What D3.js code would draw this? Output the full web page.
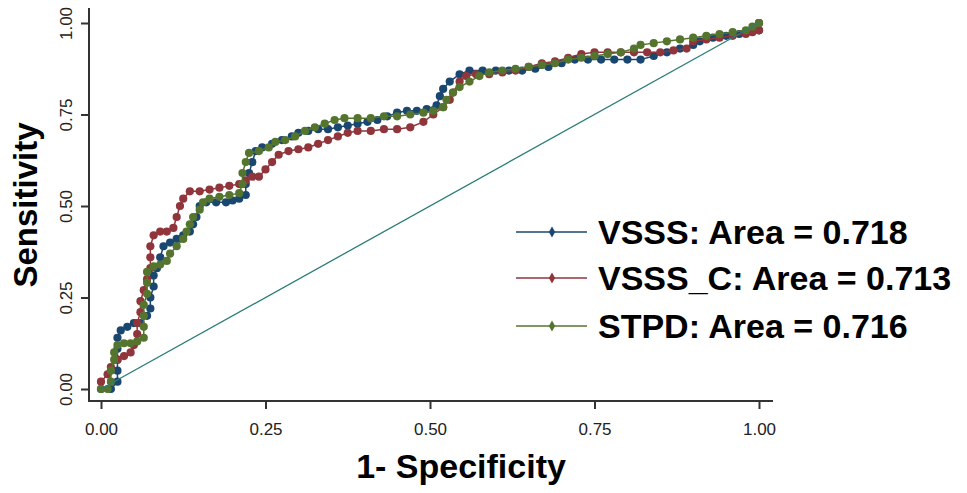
<!DOCTYPE html>
<html>
<head>
<meta charset="utf-8">
<script src="https://cdn.jsdelivr.net/npm/d3@7"></script>
<style>
  html, body { margin: 0; padding: 0; background: #fff; }
  svg { display: block; }
</style>
</head>
<body>
<svg id="chart" width="967" height="493"></svg>
<script>
// ---------------- data ----------------
const seriesNames = ["VSSS", "VSSS_C", "STPD"];
const areas = ["0.718", "0.713", "0.716"];
const xTicks = [0, 0.25, 0.5, 0.75, 1];
const yTicks = [0, 0.25, 0.5, 0.75, 1];
const xTitle = "1- Specificity";
const yTitle = "Sensitivity";

// [1-specificity, sensitivity]
const vsss = [[0,0],[0.015,0],[0.025,0.02],[0.025,0.05],[0.025,0.08],[0.025,0.11],[0.025,0.14],[0.03,0.16],[0.04,0.17],[0.05,0.18],[0.06,0.18],[0.07,0.2],[0.075,0.22],[0.075,0.25],[0.08,0.28],[0.08,0.31],[0.085,0.33],[0.09,0.36],[0.095,0.39],[0.105,0.4],[0.115,0.41],[0.125,0.42],[0.135,0.43],[0.14,0.45],[0.145,0.47],[0.15,0.5],[0.16,0.51],[0.175,0.51],[0.19,0.51],[0.2,0.515],[0.21,0.52],[0.22,0.53],[0.22,0.56],[0.225,0.59],[0.23,0.62],[0.235,0.65],[0.245,0.66],[0.26,0.67],[0.275,0.68],[0.29,0.69],[0.3,0.7],[0.315,0.705],[0.33,0.71],[0.345,0.71],[0.36,0.715],[0.375,0.72],[0.39,0.725],[0.405,0.73],[0.42,0.735],[0.435,0.745],[0.45,0.755],[0.465,0.76],[0.48,0.76],[0.495,0.765],[0.51,0.775],[0.515,0.8],[0.52,0.82],[0.53,0.84],[0.545,0.86],[0.56,0.87],[0.58,0.87],[0.6,0.87],[0.62,0.87],[0.64,0.87],[0.66,0.875],[0.68,0.88],[0.7,0.89],[0.72,0.9],[0.74,0.9],[0.76,0.9],[0.78,0.9],[0.8,0.9],[0.82,0.9],[0.84,0.91],[0.86,0.92],[0.88,0.93],[0.9,0.94],[0.91,0.95],[0.93,0.96],[0.95,0.965],[0.97,0.97],[0.98,0.975],[1,0.98],[1,1]];

const vsssC = [[0,0.02],[0.01,0.04],[0.015,0.06],[0.025,0.08],[0.035,0.09],[0.045,0.1],[0.05,0.12],[0.055,0.15],[0.055,0.18],[0.06,0.21],[0.06,0.24],[0.065,0.27],[0.07,0.3],[0.075,0.33],[0.075,0.36],[0.075,0.39],[0.08,0.42],[0.09,0.43],[0.1,0.43],[0.11,0.44],[0.115,0.47],[0.12,0.5],[0.125,0.52],[0.135,0.54],[0.15,0.54],[0.165,0.545],[0.18,0.55],[0.195,0.555],[0.21,0.56],[0.22,0.57],[0.23,0.58],[0.24,0.58],[0.25,0.6],[0.26,0.62],[0.27,0.64],[0.285,0.65],[0.3,0.655],[0.315,0.66],[0.33,0.67],[0.345,0.68],[0.36,0.69],[0.375,0.7],[0.39,0.705],[0.41,0.705],[0.43,0.71],[0.45,0.71],[0.47,0.715],[0.49,0.73],[0.505,0.75],[0.52,0.77],[0.53,0.79],[0.535,0.81],[0.545,0.84],[0.555,0.855],[0.57,0.86],[0.59,0.86],[0.61,0.865],[0.63,0.87],[0.65,0.88],[0.67,0.89],[0.69,0.895],[0.71,0.905],[0.73,0.915],[0.75,0.92],[0.77,0.92],[0.79,0.92],[0.81,0.92],[0.83,0.92],[0.85,0.92],[0.87,0.925],[0.89,0.93],[0.9,0.95],[0.92,0.955],[0.94,0.96],[0.96,0.965],[0.98,0.97],[0.99,0.975],[1,0.98],[1,1]];

const stpd = [[0,0],[0.01,0],[0.015,0.02],[0.015,0.05],[0.02,0.08],[0.02,0.1],[0.025,0.12],[0.035,0.125],[0.045,0.125],[0.055,0.13],[0.065,0.14],[0.065,0.17],[0.065,0.2],[0.065,0.23],[0.07,0.26],[0.07,0.29],[0.07,0.32],[0.08,0.335],[0.09,0.34],[0.1,0.35],[0.105,0.37],[0.115,0.39],[0.125,0.41],[0.13,0.43],[0.135,0.45],[0.14,0.47],[0.15,0.49],[0.155,0.51],[0.165,0.52],[0.18,0.525],[0.195,0.53],[0.21,0.535],[0.215,0.56],[0.215,0.59],[0.22,0.62],[0.225,0.645],[0.24,0.65],[0.255,0.66],[0.265,0.675],[0.28,0.68],[0.295,0.69],[0.31,0.705],[0.325,0.715],[0.34,0.725],[0.355,0.735],[0.37,0.74],[0.39,0.74],[0.41,0.74],[0.43,0.745],[0.45,0.745],[0.47,0.75],[0.49,0.755],[0.505,0.76],[0.52,0.77],[0.525,0.79],[0.535,0.81],[0.545,0.825],[0.56,0.84],[0.575,0.855],[0.59,0.865],[0.61,0.87],[0.63,0.875],[0.65,0.88],[0.67,0.885],[0.69,0.89],[0.71,0.9],[0.73,0.905],[0.75,0.91],[0.77,0.915],[0.79,0.92],[0.81,0.93],[0.82,0.94],[0.84,0.945],[0.86,0.95],[0.88,0.955],[0.9,0.96],[0.92,0.965],[0.94,0.97],[0.96,0.975],[0.98,0.98],[0.99,0.99],[1,1]];

const referenceLine = [[0,0],[1,1]];
const colors = ["#1a476f", "#90353b", "#55752f"];
const refColor = "#2b7d79";

// ---------------- drawing ----------------
const svg = d3.select("#chart");
const x = d3.scaleLinear().domain([0, 1]).range([101, 759]);
const y = d3.scaleLinear().domain([0, 1]).range([389, 23]);
const axisLeftX = 89, axisBottomY = 401;
const axisColor = "#333";

// axes lines
svg.append("line").attr("x1", axisLeftX).attr("x2", axisLeftX).attr("y1", 8).attr("y2", axisBottomY + 1)
  .attr("stroke", axisColor).attr("stroke-width", 2);
svg.append("line").attr("x1", axisLeftX - 1).attr("x2", 773).attr("y1", axisBottomY).attr("y2", axisBottomY)
  .attr("stroke", axisColor).attr("stroke-width", 2);

// y axis ticks
const yAxis = d3.axisLeft(y).tickValues(yTicks).tickFormat(d3.format(".2f")).tickSize(8).tickPadding(0);
const gy = svg.append("g").attr("transform", `translate(${axisLeftX},0)`).call(yAxis);
gy.select(".domain").remove();
gy.selectAll(".tick line").attr("stroke", axisColor).attr("stroke-width", 2);
gy.selectAll(".tick text").attr("transform", "translate(-17,0) rotate(-90)")
  .attr("x", 0).attr("dy", 0).attr("text-anchor", "middle")
  .attr("font-family", "Liberation Sans, Arial, sans-serif").attr("font-size", 17).attr("fill", "#222");

// x axis ticks
const xAxis = d3.axisBottom(x).tickValues(xTicks).tickFormat(d3.format(".2f")).tickSize(8).tickPadding(14);
const gx = svg.append("g").attr("transform", `translate(0,${axisBottomY})`).call(xAxis);
gx.select(".domain").remove();
gx.selectAll(".tick line").attr("stroke", axisColor).attr("stroke-width", 2);
gx.selectAll(".tick text").attr("font-family", "Liberation Sans, Arial, sans-serif").attr("font-size", 17).attr("fill", "#222");

// titles
svg.append("text").attr("x", 461).attr("y", 478).attr("text-anchor", "middle")
  .attr("font-family", "Liberation Sans, Arial, sans-serif").attr("font-weight", "bold").attr("font-size", 34)
  .attr("fill", "#000").text(xTitle);
svg.append("text").attr("transform", "translate(37,205) rotate(-90)").attr("text-anchor", "middle")
  .attr("font-family", "Liberation Sans, Arial, sans-serif").attr("font-weight", "bold").attr("font-size", 33)
  .attr("fill", "#000").text(yTitle);

// series
const line = d3.line().x(d => x(d[0])).y(d => y(d[1]));
const allSeries = [vsss, vsssC, stpd];
allSeries.forEach((data, i) => {
  const g = svg.append("g");
  g.append("path").datum(data).attr("d", line).attr("fill", "none")
    .attr("stroke", colors[i]).attr("stroke-width", 1.5);
  g.selectAll("circle").data(data).enter().append("circle")
    .attr("cx", d => x(d[0])).attr("cy", d => y(d[1])).attr("r", 4.1)
    .attr("fill", colors[i]);
});

// reference line
svg.append("path").datum(referenceLine).attr("d", line).attr("fill", "none")
  .attr("stroke", refColor).attr("stroke-width", 1.3);

// legend
const legendY = [232, 278, 326];
const diamond = d3.symbol().type(d3.symbolDiamond).size(34);
seriesNames.forEach((name, i) => {
  const g = svg.append("g");
  g.append("line").attr("x1", 516).attr("x2", 587).attr("y1", legendY[i]).attr("y2", legendY[i])
    .attr("stroke", colors[i]).attr("stroke-width", 1.5);
  g.append("path").attr("d", diamond).attr("transform", `translate(552,${legendY[i]})`).attr("fill", colors[i]);
  g.append("text").attr("x", 598).attr("y", legendY[i] + 12)
    .attr("font-family", "Liberation Sans, Arial, sans-serif").attr("font-weight", "bold").attr("font-size", 34)
    .attr("fill", "#000").text(`${name}: Area = ${areas[i]}`);
});
</script>
</body>
</html>
